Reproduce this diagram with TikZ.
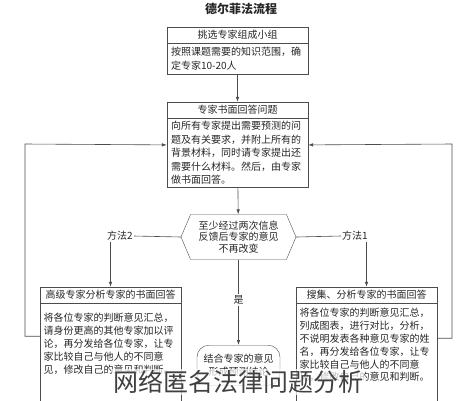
\documentclass[tikz,border=0pt]{standalone}
\usepackage{fontspec}
\newfontfamily\cjk{Noto Sans CJK SC}
\usetikzlibrary{positioning,shapes.symbols,arrows.meta}

\newcommand{\toptext}[2]{\parbox[c][100pt][t]{134pt}{\raggedright\vspace*{#1}#2}}

\begin{document}
\begin{tikzpicture}[x=1pt,y=-1pt,
  every node/.style={font=\cjk\fontsize{10}{13.5}\selectfont, text=black!85},
  hdr/.style={draw=black!70, minimum width=141pt, minimum height=16pt, inner sep=0pt},
  txt/.style={draw=black!70, text width=133pt, inner xsep=4pt, inner ysep=2pt, align=left},
  lowbox/.style={draw=black!70, inner xsep=3.5pt, inner ysep=0pt,
    font=\cjk\fontsize{10}{12.8}\selectfont},
  way/.style={inner sep=1pt, fill=white},
  line/.style={draw=black!70, line width=0.6pt},
  arr/.style={line, -{Latex[length=5pt,width=3.5pt]}}]
  \useasboundingbox (0,0) rectangle (476,400);
  \clip (0,0) rectangle (476,400);

  \node[font=\cjk\bfseries\fontsize{12}{14}\selectfont] (title) at (241,9) {德尔菲法流程};

  % top boxes
  \node[hdr] (grouphd) at (237.5,35) {挑选专家组成小组};
  \node[txt, below=0pt of grouphd, minimum height=31pt] (groupbody)
    {按照课题需要的知识范围，确\\定专家10-20人};
  \node[hdr] (answerhd) at (237.5,110) {专家书面回答问题};
  \node[txt, below=0pt of answerhd, minimum height=69pt] (answerbody)
    {向所有专家提出需要预测的问\\题及有关要求，并附上所有的\\背景材料，同时请专家提出还\\需要什么材料。然后，由专家\\做书面回答。};

  % decision
  \node[shape=signal, signal to=west and east, signal pointer angle=134,
    draw=black!70, minimum width=115pt, minimum height=45pt, inner sep=1pt,
    align=center, font=\cjk\fontsize{10}{11.5}\selectfont] (check) at (238.5,237)
    {至少经过两次信息\\反馈后专家的意见\\不再改变};
  \node[way] (way2) at (120,236) {方法2};
  \node[way] (way1) at (355,236) {方法1};

  % lower boxes
  \node[hdr] (lefthd) at (110.5,295) {高级专家分析专家的书面回答};
  \node[lowbox, below=0pt of lefthd] (leftbody)
    {\toptext{10pt}{将各位专家的判断意见汇总，\\请身份更高的其他专家加以评\\论，再分发给各位专家，让专\\家比较自己与他人的不同意\\见，修改自己的意见和判断。}};
  \node[hdr] (righthd) at (366.5,295) {搜集、分析专家的书面回答};
  \node[lowbox, below=0pt of righthd] (rightbody)
    {\toptext{5pt}{将各位专家的判断意见汇总，\\列成图表，进行对比，分析，\\不说明发表各种意见专家的姓\\名，再分发给各位专家，让专\\家比较自己与他人的不同意\\见，修改自己的意见和判断。}};
  \node[way] (yes) at (238.5,300) {是};
  \node[draw=black!70, rounded corners=12pt, minimum width=83pt, minimum height=40pt,
    anchor=north, align=center, inner sep=2pt] (result) at (238.5,345)
    {结合专家的意见\\形成预测结论};

  % connectors
  \draw[arr] (groupbody) -- (answerhd);
  \draw[arr] (answerbody) -- (check);
  \draw[line] (check.west) -- (way2.east);
  \draw[arr] (way2.south -| lefthd.north) -- (lefthd.north);
  \draw[line] (check.east) -- (way1.west);
  \draw[arr] (way1.south -| righthd.north) -- (righthd.north);
  \draw[line] (check.south) -- (yes);
  \draw[arr] (yes) -- (result);
  \draw[arr] ([yshift=-33pt]leftbody.north west) -| (25,144) -- ([yshift=8pt]answerbody.west);
  \draw[arr] ([yshift=-35pt]rightbody.north east) -| (452,144) -- ([yshift=8pt]answerbody.east);

  \node[font=\cjk\fontsize{25}{25}\selectfont, text=black!75, fill=white,
    fill opacity=0.7, text opacity=1, inner sep=1pt] (mark) at (238,382)
    {网络匿名法律问题分析};
\end{tikzpicture}
\end{document}
